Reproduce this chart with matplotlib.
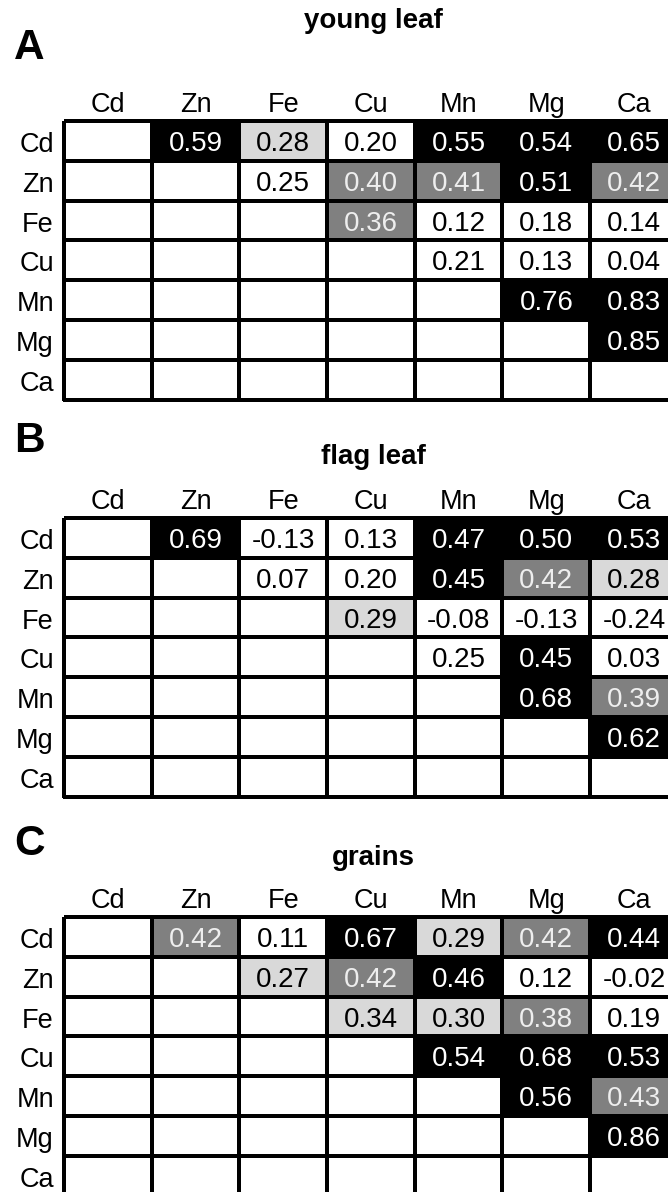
import numpy as np
import matplotlib
matplotlib.use("Agg")
import matplotlib.pyplot as plt
from matplotlib.colors import ListedColormap, BoundaryNorm

plt.rcParams['font.family'] = ['Liberation Sans', 'DejaVu Sans']

elements = ['Cd', 'Zn', 'Fe', 'Cu', 'Mn', 'Mg', 'Ca']
titles = ['young leaf', 'flag leaf', 'grains']
letters = ['A', 'B', 'C']

# upper triangle, row by row (each row starts right of the diagonal)
young_r = [[0.59, 0.28, 0.20, 0.55, 0.54, 0.65],
           [0.25, 0.40, 0.41, 0.51, 0.42],
           [0.36, 0.12, 0.18, 0.14],
           [0.21, 0.13, 0.04],
           [0.76, 0.83],
           [0.85]]
young_lvl = [[3, 1, 0, 3, 3, 3],
             [0, 2, 2, 3, 2],
             [2, 0, 0, 0],
             [0, 0, 0],
             [3, 3],
             [3]]

flag_r = [[0.69, -0.13, 0.13, 0.47, 0.50, 0.53],
          [0.07, 0.20, 0.45, 0.42, 0.28],
          [0.29, -0.08, -0.13, -0.24],
          [0.25, 0.45, 0.03],
          [0.68, 0.39],
          [0.62]]
flag_lvl = [[3, 0, 0, 3, 3, 3],
            [0, 0, 3, 2, 1],
            [1, 0, 0, 0],
            [0, 3, 0],
            [3, 2],
            [3]]

grain_r = [[0.42, 0.11, 0.67, 0.29, 0.42, 0.44],
           [0.27, 0.42, 0.46, 0.12, -0.02],
           [0.34, 0.30, 0.38, 0.19],
           [0.54, 0.68, 0.53],
           [0.56, 0.43],
           [0.86]]
grain_lvl = [[2, 0, 3, 1, 2, 3],
             [1, 2, 3, 0, 0],
             [1, 1, 2, 0],
             [3, 3, 3],
             [3, 2],
             [3]]

cell_colors = ['#ffffff', '#d9d9d9', '#808080', '#000000']
text_colors = ['black', 'black', '#eeeeee', 'white']

W, H = 668, 1192
cw, ch = 87.7, 39.8
grid_left = 64
grid_tops = [121, 518, 917]
title_base = [28, 464, 865]
letter_base = [59, 452, 855]


def to_matrix(tri):
    m = np.full((7, 7), np.nan)
    for i, row in enumerate(tri):
        for k, v in enumerate(row):
            m[i, i + 1 + k] = v
    return m


def fx(x):
    return x / W


def fy(y):
    return 1 - y / H


fig = plt.figure(figsize=(W / 100, H / 100), dpi=100)
cmap = ListedColormap(cell_colors)
norm = BoundaryNorm([-0.5, 0.5, 1.5, 2.5, 3.5], cmap.N)

panels = [(young_r, young_lvl), (flag_r, flag_lvl), (grain_r, grain_lvl)]
for p, (vals, lvls) in enumerate(panels):
    top = grid_tops[p]
    ax = fig.add_axes([fx(grid_left), fy(top + 7 * ch), 7 * cw / W, 7 * ch / H])
    r = to_matrix(vals)
    lv = np.nan_to_num(to_matrix(lvls), nan=0)
    ax.pcolormesh(np.arange(8), np.arange(8), lv, cmap=cmap, norm=norm,
                  edgecolors='black', linewidth=1.6, clip_on=False)
    ax.set_xlim(0, 7)
    ax.set_ylim(7, 0)
    ax.axis('off')

    for i in range(7):
        for j in range(7):
            if np.isnan(r[i, j]):
                continue
            ax.text(j + 0.5, i + 30 / ch, '%.2f' % r[i, j], ha='center',
                    va='baseline', fontsize=20, color=text_colors[int(lv[i, j])])

    for j, el in enumerate(elements):
        ax.text(j + 0.5, -9 / ch, el, ha='center', va='baseline', fontsize=19.5,
                clip_on=False)
        ax.text(-10 / cw, j + 31 / ch, el, ha='right', va='baseline', fontsize=19.5,
                clip_on=False)

    fig.text(fx(373), fy(title_base[p]), titles[p], ha='center', va='baseline',
             fontsize=20, fontweight='bold')
    fig.text(fx(14), fy(letter_base[p]), letters[p], ha='left', va='baseline',
             fontsize=30.5, fontweight='bold')

fig.savefig('out.png', dpi=100)
